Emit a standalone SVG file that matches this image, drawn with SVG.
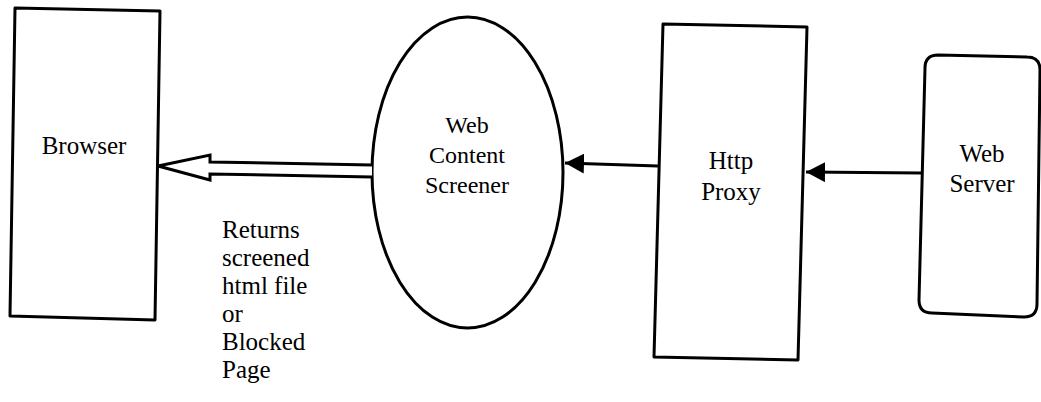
<svg xmlns="http://www.w3.org/2000/svg" width="1041" height="402" viewBox="0 0 1041 402">
  <style>
    .shape { fill: #ffffff; stroke: #000000; stroke-width: 3; stroke-linejoin: round; }
    .label { font-family: "Liberation Serif", "Times New Roman", serif; font-size: 25px; fill: #000000; }
    .small { font-size: 24px; }
    .mid { text-anchor: middle; }
    .wire { fill: none; stroke: #000000; stroke-width: 3; }
    .hollow { fill: #ffffff; stroke: #000000; stroke-width: 3; stroke-linejoin: miter; }
  </style>
  <defs>
    <marker id="solidHead" markerWidth="20" markerHeight="20" refX="19" refY="10" orient="auto" markerUnits="userSpaceOnUse">
      <path d="M0,0 L19,10 L0,20 Z" fill="#000000"/>
    </marker>
  </defs>
  <rect width="1041" height="402" fill="#ffffff"/>

  <g id="browser">
    <polygon class="shape" points="15,8 160,11 155,320 10,316"/>
    <text class="label mid" x="84" y="154">Browser</text>
  </g>

  <g id="web-content-screener">
    <ellipse class="shape" cx="467.5" cy="172.5" rx="95.5" ry="155.5"/>
    <text class="label small mid" x="467" y="133">Web</text>
    <text class="label small mid" x="467" y="163">Content</text>
    <text class="label small mid" x="467" y="193">Screener</text>
  </g>

  <g id="http-proxy">
    <polygon class="shape" points="663,24 807,27 798,360 654,357"/>
    <text class="label mid" x="731" y="169">Http</text>
    <text class="label mid" x="731" y="200">Proxy</text>
  </g>

  <g id="web-server">
    <path class="shape" d="M938,55 L1027,57 Q1040,57 1040,70 L1037,304 Q1037,317 1024,317 L932,313 Q919,313 919,300 L925,68 Q925,55 938,55 Z"/>
    <text class="label mid" x="982" y="162">Web</text>
    <text class="label mid" x="982" y="192">Server</text>
  </g>

  <g id="connectors">
    <!-- Web Server to Http Proxy -->
    <line class="wire" x1="921" y1="173" x2="806" y2="172" marker-end="url(#solidHead)"/>
    <!-- Http Proxy to Web Content Screener -->
    <line class="wire" x1="658" y1="166" x2="565" y2="163" marker-end="url(#solidHead)"/>
    <!-- Web Content Screener back to Browser: hollow block arrow -->
    <path class="hollow" d="M372,165 L210,162 L210,155 L158,166 L210,180 L210,174 L372,177"/>
  </g>

  <g id="return-note">
    <text class="label" x="222" y="238">Returns</text>
    <text class="label" x="222" y="266">screened</text>
    <text class="label" x="222" y="294">html file</text>
    <text class="label" x="222" y="322">or</text>
    <text class="label" x="222" y="350">Blocked</text>
    <text class="label" x="222" y="378">Page</text>
  </g>
</svg>
